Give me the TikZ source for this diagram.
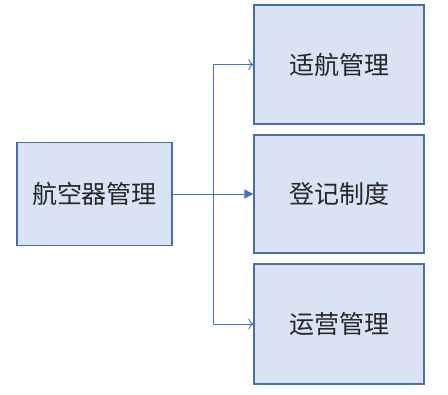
\documentclass[tikz,border=0pt]{standalone}
\usepackage{fontspec}
\newfontfamily\cjk{Noto Sans CJK SC}
\usetikzlibrary{arrows.meta}
\definecolor{boxfill}{HTML}{DAE3F3}
\definecolor{boxline}{HTML}{4A6DAE}
\definecolor{lineblue}{HTML}{4472C4}
\definecolor{txt}{HTML}{262626}
\begin{document}
\begin{tikzpicture}[x=1pt,y=-1pt,
  box/.style={draw=boxline,fill=boxfill,line width=1.3pt,inner sep=0pt,text=txt,
    font=\cjk\fontsize{25}{30}\selectfont},
  conn/.style={draw=lineblue,line width=0.9pt},
  openhead/.style={-{To[length=5pt,width=11pt]}},
  fillhead/.style={-{Triangle[length=9pt,width=9pt]}}]
\useasboundingbox (0,0) rectangle (448,395);
\node[box,minimum width=155pt,minimum height=103pt] (main) at (94.5,194) {航空器管理};
\node[box,minimum width=170pt,minimum height=119pt] (a) at (339,64.5) {适航管理};
\node[box,minimum width=170pt,minimum height=118pt] (b) at (339,194) {登记制度};
\node[box,minimum width=170pt,minimum height=120pt] (c) at (339,324) {运营管理};
\coordinate (j) at (213.5,194);
\draw[conn] (main.east) -- (j);
\draw[conn,fillhead] (j) -- (b.west);
\draw[conn,openhead] (j) |- (a.west);
\draw[conn,openhead] (j) |- (c.west);
\end{tikzpicture}
\end{document}
